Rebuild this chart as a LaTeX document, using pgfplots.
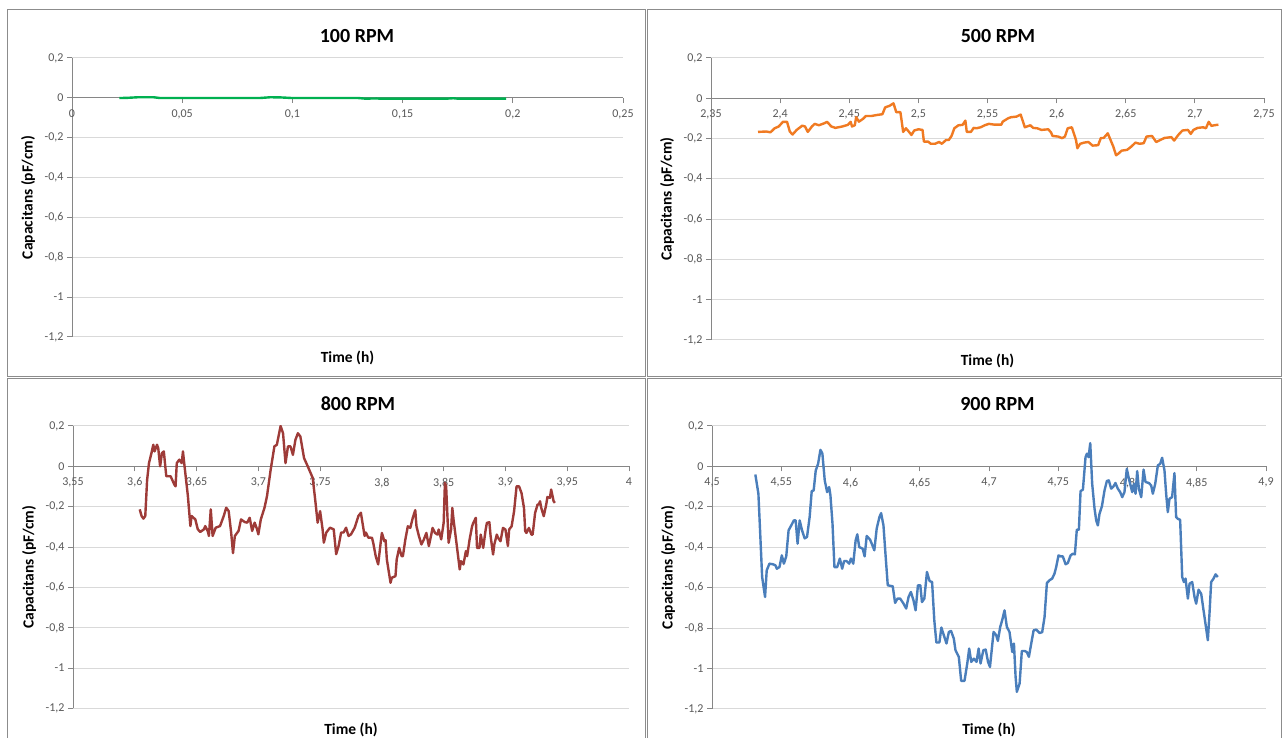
\documentclass[border=0pt]{standalone}
\usepackage{fontspec}
\setmainfont{Carlito}
\usepackage{pgfplots}
\pgfplotsset{compat=1.18}
\definecolor{gridgray}{HTML}{D9D9D9}
\definecolor{axisgray}{HTML}{868686}
\definecolor{labelgray}{HTML}{595959}
\definecolor{bordergray}{HTML}{8C8C8C}
\definecolor{cgreen}{HTML}{00B050}
\definecolor{corange}{HTML}{F07A22}
\definecolor{cred}{HTML}{9E3B38}
\definecolor{cblue}{HTML}{4A7EBB}
\pgfplotsset{
  panel/.style={
    scale only axis,
    axis x line*=middle, axis y line*=left,
    hide obscured x ticks=false, hide obscured y ticks=false,
    ymin=-1.2, ymax=0.2,
    ytick={-1.2,-1,-0.8,-0.6,-0.4,-0.2,0,0.2},
    ymajorgrids,
    grid style={draw=gridgray, line width=1pt},
    axis line style={draw=axisgray, line width=1pt},
    tick style={draw=axisgray, line width=1pt},
    tick align=outside, major tick length=5pt,
    tick label style={font=\fontsize{12}{14}\selectfont, text=labelgray},
    xticklabel style={yshift=-3pt},
    /pgf/number format/use comma,
    /pgf/number format/fixed,
    /pgf/number format/precision=2,
    /pgf/number format/assume math mode=true,
    xlabel={Time (h)}, ylabel={Capacitans (pF/cm)},
    every axis x label/.style={at={(rel axis cs:0.5,0)}, anchor=center, yshift=-21pt,
      font=\bfseries\fontsize{15.5}{18}\selectfont, text=black},
    every axis y label/.style={at={(rel axis cs:0,0.5)}, rotate=90, anchor=center, yshift=44pt,
      font=\bfseries\fontsize{15.5}{18}\selectfont, text=black},
    every axis plot/.append style={line width=2.4pt, line join=round, no markers},
  }
}
\begin{document}
\begin{tikzpicture}[x=1pt,y=1pt]
\useasboundingbox (0pt,0pt) rectangle (1283pt,738pt);
\fill[white] (0pt,0pt) rectangle (1283pt,738pt);
\draw[bordergray, line width=1pt] (7.5pt,728pt) rectangle (645pt,361pt);
\draw[bordergray, line width=1pt] (647pt,728pt) rectangle (1281pt,361pt);
\draw[bordergray, line width=1pt] (7.5pt,359pt) rectangle (645pt,-5pt);
\draw[bordergray, line width=1pt] (647pt,359pt) rectangle (1281pt,-5pt);

% 100 RPM
\begin{axis}[panel, at={(72pt,401pt)}, anchor=south west, width=551pt, height=279pt,
  xmin=0, xmax=0.25, xtick={0,0.05,0.1,0.15,0.2,0.25}]
\addplot[cgreen] coordinates {
(0.0215,-0.001)(0.025,0.000)(0.030,0.003)(0.037,0.003)(0.040,-0.001)(0.050,-0.001)
(0.085,-0.001)(0.090,0.003)(0.095,0.002)(0.100,-0.001)(0.130,-0.001)(0.133,-0.004)
(0.138,-0.003)(0.140,-0.004)(0.170,-0.004)(0.173,-0.002)(0.175,-0.004)(0.197,-0.004)};
\end{axis}

% 500 RPM
\begin{axis}[panel, at={(711pt,398pt)}, anchor=south west, width=553pt, height=282pt,
  xmin=2.35, xmax=2.75, xtick={2.35,2.4,2.45,2.5,2.55,2.6,2.65,2.7,2.75}]
\addplot[corange] coordinates {
(2.384,-0.167)(2.390,-0.165)(2.393,-0.169)(2.396,-0.149)(2.399,-0.140)(2.402,-0.117)
(2.405,-0.117)(2.407,-0.165)(2.409,-0.180)(2.412,-0.157)(2.416,-0.136)(2.418,-0.140)
(2.420,-0.167)(2.423,-0.140)(2.425,-0.127)(2.428,-0.134)(2.432,-0.124)(2.434,-0.117)
(2.437,-0.140)(2.440,-0.147)(2.445,-0.140)(2.449,-0.132)(2.451,-0.117)(2.452,-0.140)
(2.454,-0.134)(2.455,-0.094)(2.457,-0.116)(2.460,-0.102)(2.462,-0.088)(2.466,-0.088)
(2.470,-0.083)(2.474,-0.079)(2.476,-0.045)(2.479,-0.038)(2.482,-0.025)(2.484,-0.069)
(2.487,-0.069)(2.489,-0.167)(2.491,-0.149)(2.493,-0.165)(2.495,-0.182)(2.497,-0.160)
(2.500,-0.154)(2.503,-0.157)(2.504,-0.215)(2.507,-0.215)(2.509,-0.226)(2.512,-0.226)
(2.515,-0.217)(2.517,-0.226)(2.520,-0.207)(2.522,-0.207)(2.524,-0.187)(2.526,-0.149)
(2.529,-0.134)(2.532,-0.132)(2.534,-0.111)(2.535,-0.167)(2.538,-0.167)(2.540,-0.147)
(2.542,-0.149)(2.545,-0.144)(2.548,-0.134)(2.551,-0.127)(2.555,-0.131)(2.560,-0.131)
(2.561,-0.116)(2.565,-0.099)(2.567,-0.094)(2.571,-0.091)(2.574,-0.081)(2.577,-0.144)
(2.581,-0.134)(2.583,-0.147)(2.586,-0.149)(2.589,-0.157)(2.594,-0.154)(2.596,-0.170)
(2.597,-0.187)(2.601,-0.190)(2.604,-0.198)(2.606,-0.190)(2.608,-0.149)(2.611,-0.144)
(2.614,-0.207)(2.615,-0.248)(2.617,-0.226)(2.620,-0.220)(2.623,-0.217)(2.626,-0.235)
(2.630,-0.233)(2.632,-0.197)(2.634,-0.197)(2.637,-0.174)(2.639,-0.207)(2.641,-0.240)
(2.643,-0.283)(2.645,-0.273)(2.647,-0.260)(2.651,-0.256)(2.654,-0.240)(2.657,-0.220)
(2.660,-0.226)(2.663,-0.223)(2.665,-0.190)(2.669,-0.187)(2.672,-0.217)(2.675,-0.207)
(2.678,-0.197)(2.683,-0.193)(2.685,-0.210)(2.688,-0.182)(2.691,-0.160)(2.695,-0.157)
(2.697,-0.177)(2.699,-0.157)(2.702,-0.147)(2.706,-0.144)(2.708,-0.149)(2.710,-0.117)
(2.712,-0.137)(2.714,-0.134)(2.717,-0.131)};
\end{axis}

% 800 RPM
\begin{axis}[panel, at={(73pt,29.5pt)}, anchor=south west, width=556pt, height=282.5pt,
  xmin=3.55, xmax=4, xtick={3.55,3.6,3.65,3.7,3.75,3.8,3.85,3.9,3.95,4}]
\addplot[cred] coordinates {
(3.604,-0.213)(3.6055,-0.246)(3.607,-0.259)(3.6085,-0.246)(3.610,-0.066)(3.6115,0.016)
(3.6135,0.066)(3.615,0.107)(3.616,0.074)(3.618,0.107)(3.619,0.090)(3.6205,0.0)
(3.622,0.066)(3.6235,0.074)(3.6255,-0.049)(3.629,-0.049)(3.632,-0.090)(3.633,-0.099)
(3.634,0.016)(3.636,0.033)(3.638,0.016)(3.639,0.074)(3.640,0.016)(3.643,-0.148)
(3.645,-0.296)(3.646,-0.246)(3.649,-0.263)(3.651,-0.312)(3.653,-0.325)(3.656,-0.312)
(3.657,-0.296)(3.659,-0.320)(3.660,-0.345)(3.6615,-0.213)(3.663,-0.345)(3.6655,-0.304)
(3.669,-0.296)(3.672,-0.246)(3.674,-0.205)(3.676,-0.222)(3.678,-0.328)(3.6795,-0.430)
(3.681,-0.345)(3.684,-0.320)(3.686,-0.263)(3.689,-0.276)(3.691,-0.279)(3.693,-0.255)
(3.695,-0.320)(3.697,-0.279)(3.699,-0.312)(3.700,-0.337)(3.702,-0.263)(3.705,-0.205)
(3.707,-0.148)(3.710,-0.016)(3.713,0.099)(3.715,0.107)(3.718,0.200)(3.720,0.164)
(3.722,0.016)(3.724,0.099)(3.726,0.099)(3.728,0.057)(3.730,0.131)(3.732,0.164)
(3.734,0.148)(3.737,0.041)(3.740,0.0)(3.744,-0.057)(3.746,-0.164)(3.748,-0.279)
(3.750,-0.222)(3.752,-0.312)(3.753,-0.378)(3.755,-0.328)(3.758,-0.304)(3.761,-0.312)
(3.763,-0.435)(3.765,-0.394)(3.767,-0.328)(3.769,-0.328)(3.771,-0.304)(3.773,-0.345)
(3.775,-0.337)(3.778,-0.304)(3.781,-0.246)(3.783,-0.230)(3.786,-0.345)(3.787,-0.328)
(3.789,-0.353)(3.792,-0.354)(3.793,-0.379)(3.795,-0.445)(3.797,-0.486)(3.799,-0.379)
(3.800,-0.330)(3.802,-0.371)(3.803,-0.366)(3.804,-0.461)(3.807,-0.577)(3.808,-0.552)
(3.811,-0.544)(3.812,-0.461)(3.814,-0.404)(3.816,-0.445)(3.817,-0.445)(3.819,-0.362)
(3.821,-0.297)(3.823,-0.305)(3.825,-0.255)(3.827,-0.217)(3.828,-0.297)(3.830,-0.346)
(3.832,-0.387)(3.834,-0.362)(3.836,-0.330)(3.838,-0.395)(3.840,-0.338)(3.841,-0.305)
(3.843,-0.330)(3.845,-0.338)(3.846,-0.313)(3.848,-0.362)(3.850,-0.280)(3.851,-0.082)
(3.852,-0.099)(3.854,-0.379)(3.856,-0.313)(3.857,-0.206)(3.858,-0.264)(3.860,-0.362)
(3.863,-0.511)(3.864,-0.470)(3.866,-0.486)(3.868,-0.420)(3.869,-0.445)(3.871,-0.362)
(3.873,-0.297)(3.874,-0.280)(3.876,-0.255)(3.877,-0.404)(3.879,-0.404)(3.880,-0.338)
(3.882,-0.404)(3.884,-0.313)(3.885,-0.280)(3.887,-0.277)(3.888,-0.346)(3.890,-0.437)
(3.891,-0.387)(3.893,-0.338)(3.894,-0.354)(3.896,-0.371)(3.898,-0.305)(3.900,-0.313)
(3.902,-0.395)(3.903,-0.313)(3.905,-0.297)(3.907,-0.222)(3.909,-0.099)(3.911,-0.099)
(3.913,-0.132)(3.915,-0.206)(3.916,-0.321)(3.917,-0.330)(3.919,-0.305)(3.921,-0.338)
(3.922,-0.338)(3.924,-0.231)(3.926,-0.189)(3.927,-0.189)(3.928,-0.173)(3.929,-0.206)
(3.931,-0.247)(3.933,-0.189)(3.934,-0.152)(3.936,-0.156)(3.937,-0.115)(3.939,-0.173)
(3.940,-0.181)};
\end{axis}

% 900 RPM
\begin{axis}[panel, at={(712pt,29pt)}, anchor=south west, width=554pt, height=283pt,
  xmin=4.5, xmax=4.9, xtick={4.5,4.55,4.6,4.65,4.7,4.75,4.8,4.85,4.9}]
\addplot[cblue] coordinates {
(4.5313,-0.040)(4.5335,-0.135)(4.5347,-0.316)(4.5362,-0.547)(4.5383,-0.646)(4.5395,-0.514)
(4.5415,-0.481)(4.5439,-0.484)(4.5458,-0.489)(4.5468,-0.506)(4.5487,-0.498)(4.5504,-0.440)
(4.5519,-0.481)(4.5536,-0.445)(4.5553,-0.316)(4.5572,-0.292)(4.5591,-0.267)(4.5604,-0.267)
(4.5618,-0.382)(4.5633,-0.267)(4.5650,-0.316)(4.5669,-0.356)(4.5686,-0.349)(4.5705,-0.250)
(4.5720,-0.122)(4.5734,-0.119)(4.5749,-0.020)(4.5766,0.013)(4.5783,0.082)(4.5797,0.063)
(4.5814,-0.069)(4.5831,-0.127)(4.5846,-0.102)(4.5855,-0.143)(4.5870,-0.283)(4.5884,-0.498)
(4.5904,-0.498)(4.5923,-0.456)(4.5940,-0.506)(4.5954,-0.468)(4.5971,-0.468)(4.5991,-0.481)
(4.6003,-0.456)(4.6020,-0.481)(4.6037,-0.366)(4.6049,-0.336)(4.6063,-0.399)(4.6088,-0.407)
(4.6102,-0.445)(4.6117,-0.344)(4.6141,-0.362)(4.6158,-0.390)(4.6172,-0.415)(4.6189,-0.308)
(4.6209,-0.250)(4.6221,-0.231)(4.6238,-0.292)(4.6254,-0.448)(4.6269,-0.588)(4.6305,-0.593)
(4.6322,-0.675)(4.6339,-0.654)(4.6359,-0.654)(4.6383,-0.679)(4.6402,-0.703)(4.6419,-0.646)
(4.6436,-0.621)(4.6455,-0.663)(4.6470,-0.712)(4.6487,-0.588)(4.6504,-0.588)(4.6516,-0.671)
(4.6533,-0.654)(4.6552,-0.522)(4.6571,-0.567)(4.6589,-0.572)(4.6605,-0.761)(4.6620,-0.871)
(4.6642,-0.871)(4.6656,-0.797)(4.6678,-0.844)(4.6693,-0.876)(4.6710,-0.819)(4.6726,-0.814)
(4.6746,-0.852)(4.6758,-0.909)(4.6782,-0.942)(4.6799,-1.061)(4.6823,-1.061)(4.6843,-0.975)
(4.6857,-0.901)(4.6872,-0.967)(4.6891,-0.951)(4.6910,-0.967)(4.6925,-0.901)(4.6939,-0.975)
(4.6959,-0.909)(4.6976,-0.906)(4.6993,-0.967)(4.7007,-0.992)(4.7033,-0.819)(4.7052,-0.835)
(4.7064,-0.863)(4.7081,-0.794)(4.7095,-0.761)(4.7112,-0.712)(4.7129,-0.794)(4.7148,-0.819)
(4.7168,-0.918)(4.7180,-0.876)(4.7192,-1.041)(4.7201,-1.115)(4.7221,-1.074)(4.7237,-0.913)
(4.7257,-0.913)(4.7273,-0.918)(4.7288,-0.942)(4.7305,-0.876)(4.7322,-0.811)(4.7341,-0.807)
(4.7365,-0.824)(4.7384,-0.820)(4.7401,-0.745)(4.7418,-0.577)(4.7437,-0.563)(4.7456,-0.555)
(4.7473,-0.530)(4.7485,-0.498)(4.7502,-0.440)(4.7517,-0.445)(4.7533,-0.445)(4.7553,-0.484)
(4.7569,-0.478)(4.7589,-0.440)(4.7605,-0.432)(4.7620,-0.435)(4.7634,-0.313)(4.7649,-0.313)
(4.7661,-0.122)(4.7678,-0.115)(4.7697,0.046)(4.7707,0.063)(4.7719,0.046)(4.7731,0.115)
(4.7745,-0.086)(4.7762,-0.209)(4.7774,-0.267)(4.7786,-0.292)(4.7798,-0.234)(4.7815,-0.198)
(4.7834,-0.119)(4.7851,-0.072)(4.7865,-0.069)(4.7882,-0.110)(4.7899,-0.099)(4.7913,-0.082)
(4.7930,-0.110)(4.7947,-0.127)(4.7962,-0.152)(4.7978,-0.127)(4.7995,-0.012)(4.8010,-0.061)
(4.8022,-0.094)(4.8034,-0.127)(4.8046,-0.086)(4.8058,-0.135)(4.8070,-0.023)(4.8082,-0.110)
(4.8099,-0.152)(4.8116,-0.016)(4.8130,-0.077)(4.8154,-0.082)(4.8171,-0.094)(4.8183,-0.135)
(4.8200,-0.086)(4.8219,0.005)(4.8236,0.013)(4.8250,0.043)(4.8267,-0.020)(4.8279,-0.135)
(4.8291,-0.226)(4.8303,-0.160)(4.8322,-0.152)(4.8339,-0.033)(4.8351,-0.250)(4.8363,-0.259)
(4.8380,-0.264)(4.8395,-0.547)(4.8407,-0.572)(4.8419,-0.555)(4.8436,-0.654)(4.8448,-0.580)
(4.8467,-0.572)(4.8484,-0.646)(4.8496,-0.679)(4.8513,-0.610)(4.8532,-0.630)(4.8549,-0.712)
(4.8568,-0.802)(4.8580,-0.860)(4.8592,-0.728)(4.8604,-0.572)(4.8621,-0.555)(4.8636,-0.534)
(4.8652,-0.547)};
\end{axis}

\node[font=\bfseries\fontsize{20}{24}\selectfont, inner sep=0] at (357pt,702pt) {100 RPM};
\node[font=\bfseries\fontsize{20}{24}\selectfont, inner sep=0] at (998pt,702pt) {500 RPM};
\node[font=\bfseries\fontsize{20}{24}\selectfont, inner sep=0] at (358pt,334pt) {800 RPM};
\node[font=\bfseries\fontsize{20}{24}\selectfont, inner sep=0] at (997.5pt,334pt) {900 RPM};
\end{tikzpicture}
\end{document}
